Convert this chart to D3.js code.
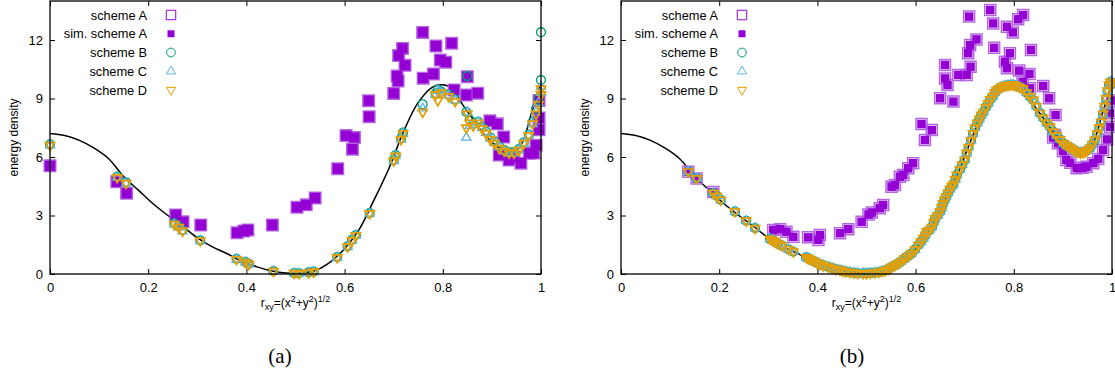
<!DOCTYPE html>
<html>
<head>
<meta charset="utf-8">
<script src="https://cdn.jsdelivr.net/npm/d3@7"></script>
<style>
  body { margin: 0; background: #fff; }
  svg { display: block; font-family: "Liberation Sans", Arial, sans-serif; }
  .tick line { stroke: #000; }
  .tick text { font-size: 13px; fill: #000; }
</style>
</head>
<body>
<svg id="chart" width="1115" height="375"></svg>
<script>
// tick labels / legend
const xTicks = [0, 0.2, 0.4, 0.6, 0.8, 1]
const yTicks = [0, 3, 6, 9, 12]
const legendLabels = ['scheme A', 'sim. scheme A', 'scheme B', 'scheme C', 'scheme D']
const captions = ['(a)', '(b)']

// exact solution
const curveX = [0, 0.03, 0.06, 0.09, 0.12, 0.15, 0.18, 0.21, 0.24, 0.27, 0.30, 0.33, 0.36, 0.39, 0.42, 0.45, 0.48, 0.51, 0.54, 0.57,
  0.60, 0.63, 0.66, 0.69, 0.72, 0.75, 0.78, 0.80, 0.82, 0.84, 0.86, 0.88, 0.90, 0.92, 0.94, 0.96, 0.98, 1.0]
const curveY = [7.2, 7.1, 6.85, 6.45, 5.9, 5.0, 4.3, 3.6, 3.0, 2.45, 1.85, 1.4, 1.05, 0.65, 0.38, 0.17, 0.05, 0.04, 0.18, 0.6,
  1.3, 2.3, 3.8, 5.4, 7.3, 8.8, 9.6, 9.7, 9.5, 8.7, 8.0, 7.3, 6.75, 6.4, 6.22, 6.65, 8.2, 9.8]

// panel (a): coarse sampling
const aX = [0, 0.137, 0.155, 0.253, 0.262, 0.270, 0.306, 0.380, 0.398, 0.405,
  0.455, 0.497, 0.507, 0.527, 0.537, 0.585, 0.606, 0.615, 0.623, 0.651,
  0.700, 0.704, 0.715, 0.719, 0.759, 0.785, 0.790, 0.797, 0.812, 0.825,
  0.848, 0.850, 0.855, 0.862, 0.872, 0.880, 0.888, 0.897, 0.905, 0.915,
  0.925, 0.935, 0.945, 0.955, 0.965, 0.975, 0.983, 0.990, 0.995, 1.000,
  1.000]
const aB = [6.65, 5.0, 4.7, 2.6, 2.45, 2.25, 1.72, 0.78, 0.62, 0.52,
  0.15, 0.05, 0.04, 0.08, 0.12, 0.87, 1.42, 1.75, 2.0, 3.12,
  5.85, 6.1, 6.95, 7.25, 8.7, 9.25, 9.45, 9.35, 9.2, 8.95,
  8.3, 10.15, 7.9, 7.7, 7.8, 7.55, 7.3, 7.0, 6.8, 6.55,
  6.35, 6.25, 6.25, 6.4, 6.75, 7.15, 7.8, 8.5, 9.0, 9.95,
  12.4]
const aC = [6.6, 4.95, 4.65, 2.55, 2.4, 2.2, 1.7, 0.75, 0.6, 0.5,
  0.14, 0.04, 0.03, 0.07, 0.11, 0.85, 1.4, 1.72, 1.98, 3.1,
  5.8, 6.05, 6.9, 7.2, 8.5, 9.2, 9.4, 9.3, 9.15, 8.9,
  7.0, 8.3, 7.6, 7.65, 7.8, 7.5, 7.25, 6.95, 6.75, 6.5,
  6.3, 6.2, 6.2, 6.35, 6.7, 7.1, 7.7, 8.3, 8.8, 9.6,
  9.3]
const aD = [6.6, 4.95, 4.65, 2.55, 2.4, 2.2, 1.7, 0.75, 0.6, 0.5,
  0.14, 0.04, 0.03, 0.07, 0.11, 0.85, 1.4, 1.72, 1.98, 3.1,
  5.8, 6.05, 6.9, 7.2, 8.3, 9.2, 8.9, 9.3, 9.1, 8.85,
  7.5, 8.2, 7.75, 7.6, 7.75, 7.45, 7.2, 6.9, 6.7, 6.45,
  6.3, 6.2, 6.2, 6.35, 6.7, 7.1, 7.7, 8.2, 8.7, 9.5,
  9.2]
const aSimX = [0.000, 0.136, 0.156, 0.256, 0.271, 0.307, 0.381, 0.395, 0.403, 0.453,
  0.503, 0.522, 0.540, 0.586, 0.603, 0.620, 0.649, 0.650, 0.700, 0.707,
  0.709, 0.710, 0.718, 0.723, 0.759, 0.760, 0.781, 0.786, 0.795, 0.806,
  0.818, 0.823, 0.848, 0.850, 0.871, 0.896, 0.911, 0.924, 0.915, 0.935,
  0.945, 0.959, 0.976, 0.985, 0.990, 0.996, 0.996, 0.996, 0.616]
const aSimY = [5.55, 4.73, 4.14, 3.03, 2.68, 2.51, 2.12, 2.2, 2.26, 2.51,
  3.42, 3.55, 3.9, 5.4, 7.1, 7.0, 8.89, 8.07, 9.26, 10.15,
  9.9, 11.2, 11.57, 10.7, 12.39, 10.04, 10.26, 11.69, 10.97, 10.86,
  11.83, 9.44, 9.18, 10.12, 9.27, 7.86, 7.7, 7.02, 6.1, 5.85,
  6.0, 5.68, 6.19, 6.2, 6.6, 7.4, 8.0, 8.9, 6.4]

// panel (b): fine sampling, schemes B, C, D lie on top of each other
const bX = [0.137, 0.154, 0.188, 0.195, 0.203, 0.232, 0.255, 0.273, 0.303, 0.309,
  0.314, 0.320, 0.328, 0.341, 0.351, 0.377, 0.381, 0.386, 0.392, 0.399,
  0.405, 0.412, 0.422, 0.430, 0.438, 0.446, 0.452, 0.458, 0.466, 0.474,
  0.482, 0.493, 0.500, 0.508, 0.517, 0.525, 0.532, 0.538, 0.545, 0.551,
  0.558, 0.565, 0.571, 0.578, 0.585, 0.592, 0.599, 0.606, 0.611, 0.616,
  0.620, 0.623, 0.628, 0.633, 0.637, 0.640, 0.645, 0.650, 0.653, 0.656,
  0.659, 0.662, 0.666, 0.670, 0.674, 0.677, 0.681, 0.684, 0.690, 0.695,
  0.700, 0.704, 0.708, 0.713, 0.717, 0.721, 0.726, 0.730, 0.734, 0.738,
  0.743, 0.748, 0.752, 0.757, 0.761, 0.765, 0.770, 0.776, 0.782, 0.788,
  0.794, 0.799, 0.805, 0.812, 0.819, 0.826, 0.833, 0.840, 0.846, 0.853,
  0.860, 0.867, 0.874, 0.880, 0.887, 0.894, 0.901, 0.907, 0.914, 0.920,
  0.926, 0.931, 0.936, 0.941, 0.945, 0.950, 0.955, 0.960, 0.965, 0.970,
  0.974, 0.978, 0.982, 0.985, 0.988, 0.991, 0.994, 0.997, 1.000]
const bY = [5.25, 4.9, 4.15, 4.0, 3.8, 3.2, 2.73, 2.35, 1.8, 1.72,
  1.65, 1.55, 1.45, 1.27, 1.14, 0.85, 0.8, 0.75, 0.66, 0.58,
  0.5, 0.44, 0.37, 0.3, 0.24, 0.2, 0.15, 0.12, 0.09, 0.06,
  0.04, 0.03, 0.03, 0.05, 0.07, 0.1, 0.14, 0.18, 0.26, 0.36,
  0.45, 0.55, 0.66, 0.8, 0.93, 1.06, 1.26, 1.49, 1.66, 1.83,
  2.0, 2.17, 2.25, 2.4, 2.65, 2.85, 3.0, 3.2, 3.4, 3.62,
  3.8, 3.96, 4.15, 4.35, 4.5, 4.6, 4.85, 5.08, 5.35, 5.6,
  5.85, 6.2, 6.5, 6.85, 7.2, 7.5, 7.75, 7.95, 8.15, 8.3,
  8.55, 8.75, 8.95, 9.1, 9.3, 9.42, 9.52, 9.6, 9.65, 9.68,
  9.7, 9.7, 9.65, 9.58, 9.5, 9.3, 9.1, 8.92, 8.6, 8.25,
  8.0, 7.75, 7.55, 7.3, 7.1, 6.9, 6.7, 6.6, 6.5, 6.4,
  6.3, 6.25, 6.22, 6.24, 6.27, 6.35, 6.46, 6.65, 6.87, 7.2,
  7.5, 7.8, 8.2, 8.6, 9.0, 9.4, 9.7, 9.85, 9.75]
const bSimX = [0.137, 0.154, 0.188, 0.310, 0.324, 0.337, 0.351, 0.381, 0.402, 0.405,
  0.446, 0.463, 0.490, 0.504, 0.511, 0.527, 0.534, 0.551, 0.558, 0.568,
  0.575, 0.585, 0.595, 0.612, 0.619, 0.633, 0.650, 0.660, 0.665, 0.660,
  0.677, 0.687, 0.704, 0.712, 0.707, 0.711, 0.724, 0.709, 0.752, 0.758,
  0.760, 0.786, 0.798, 0.809, 0.819, 0.792, 0.782, 0.786, 0.811, 0.832,
  0.835, 0.818, 0.833, 0.860, 0.872, 0.885, 0.884, 0.880, 0.890, 0.900,
  0.907, 0.915, 0.928, 0.940, 0.948, 0.962, 0.972, 0.982, 0.990, 0.996,
  0.996, 1.000]
const bSimY = [5.25, 4.9, 4.2, 2.26, 2.3, 2.17, 1.91, 1.88, 1.75, 2.0,
  2.09, 2.3, 2.68, 3.05, 3.15, 3.37, 3.54, 4.48, 4.56, 4.99,
  5.08, 5.42, 5.68, 7.69, 6.87, 7.38, 9.01, 10.03, 9.69, 10.72,
  8.84, 10.21, 10.21, 10.63, 11.32, 11.74, 12.03, 13.2, 13.54, 12.85,
  11.6, 12.68, 12.39, 13.06, 13.28, 11.32, 10.89, 10.55, 10.43, 10.26,
  11.49, 9.86, 9.52, 9.64, 9.01, 8.15, 7.13, 7.0, 6.7, 6.3,
  5.85, 5.7, 5.42, 5.45, 5.5, 5.68, 5.9, 6.36, 6.9, 7.55,
  8.24, 8.9]

const colors = { A: '#9400d3', Aedge: '#b466e2', B: '#009e73', C: '#56b4e9', D: '#e69f00' }

const svg = d3.select('#chart')

function drawPanel(p) {
  const x = d3.scaleLinear().domain([0, 1]).range([p.left, p.left + 491])
  const y = d3.scaleLinear().domain([0, 14]).range([274, 1])
  const g = svg.append('g')
  const noDomain = a => a.select('.domain').remove()

  g.append('g').attr('transform', 'translate(0,274)')
    .call(d3.axisBottom(x).tickValues(xTicks).tickFormat(d3.format('~g')).tickSize(-5).tickPadding(9)).call(noDomain)
  g.append('g').attr('transform', 'translate(0,1)')
    .call(d3.axisTop(x).tickValues(xTicks).tickFormat('').tickSize(-5)).call(noDomain)
  g.append('g').attr('transform', 'translate(' + p.left + ',0)')
    .call(d3.axisLeft(y).tickValues(yTicks).tickSize(-5).tickPadding(7)).call(noDomain)
  g.append('g').attr('transform', 'translate(' + (p.left + 491) + ',0)')
    .call(d3.axisRight(y).tickValues(yTicks).tickFormat('').tickSize(-5)).call(noDomain)

  const line = d3.line().x(d => x(d[0])).y(d => y(d[1])).curve(d3.curveCatmullRom)
  g.append('path').attr('d', line(d3.zip(curveX, curveY)))
    .attr('fill', 'none').attr('stroke', '#000').attr('stroke-width', 1.5)

  const series = (xs, ys, o) => {
    g.append('g').selectAll('path').data(d3.zip(xs, ys)).join('path')
      .attr('d', d3.symbol().type(o.type).size(o.size))
      .attr('transform', d => 'translate(' + x(d[0]) + ',' + y(d[1]) + ')' + (o.flip ? ' rotate(180)' : ''))
      .attr('fill', o.fill || 'none')
      .attr('stroke', o.stroke || 'none')
      .attr('stroke-width', o.sw || 1)
  }

  // scheme A coincides with sim. scheme A
  series(p.simX, p.simY, { type: d3.symbolSquare, size: p.openSq * p.openSq, stroke: colors.Aedge, sw: 1.5 })
  series(p.simX, p.simY, { type: d3.symbolSquare, size: p.fillSq * p.fillSq, fill: colors.A })
  series(p.x, p.B, { type: d3.symbolCircle, size: 62, stroke: colors.B, sw: 1.3 })
  series(p.x, p.C, { type: d3.symbolTriangle, size: 36, stroke: colors.C, sw: 1.3 })
  series(p.x, p.D, { type: d3.symbolTriangle, size: 36, stroke: colors.D, sw: 1.7, flip: true })

  g.append('rect').attr('x', p.left).attr('y', 1).attr('width', 491).attr('height', 273)
    .attr('fill', 'none').attr('stroke', '#000').attr('stroke-width', 1.3)

  // legend
  const leg = g.append('g').selectAll('g').data(legendLabels).join('g')
    .attr('transform', (d, i) => 'translate(0,' + (15 + i * 18.75) + ')')
  leg.append('text').attr('x', p.left + 97).attr('y', 4.5).attr('text-anchor', 'end')
    .attr('font-size', 12.8).text(d => d)
  const sx = p.left + 121
  const legSym = [
    { type: d3.symbolSquare, size: 90, stroke: colors.A, sw: 1 },
    { type: d3.symbolSquare, size: 49, fill: colors.A },
    { type: d3.symbolCircle, size: 60, stroke: colors.B, sw: 1 },
    { type: d3.symbolTriangle, size: 36, stroke: colors.C, sw: 1 },
    { type: d3.symbolTriangle, size: 36, stroke: colors.D, sw: 1, flip: true }
  ]
  leg.append('path')
    .attr('d', (d, i) => d3.symbol().type(legSym[i].type).size(legSym[i].size)())
    .attr('transform', (d, i) => 'translate(' + sx + ',0)' + (legSym[i].flip ? ' rotate(180)' : ''))
    .attr('fill', (d, i) => legSym[i].fill || 'none')
    .attr('stroke', (d, i) => legSym[i].stroke || 'none')
    .attr('stroke-width', (d, i) => legSym[i].sw || 0)

  // axis titles
  g.append('text').attr('transform', 'translate(' + (p.left - 32) + ',137.5) rotate(-90)')
    .attr('text-anchor', 'middle').attr('font-size', 12).text('energy density')
  const xl = g.append('text').attr('x', p.left + 245.5).attr('y', 307)
    .attr('text-anchor', 'middle').attr('font-size', 12)
  xl.append('tspan').text('r')
  xl.append('tspan').attr('font-size', 9).attr('dy', 3).text('xy')
  xl.append('tspan').attr('dy', -3).text('=(x')
  xl.append('tspan').attr('font-size', 9).attr('dy', -5).text('2')
  xl.append('tspan').attr('dy', 5).text('+y')
  xl.append('tspan').attr('font-size', 9).attr('dy', -5).text('2')
  xl.append('tspan').attr('dy', 5).text(')')
  xl.append('tspan').attr('font-size', 9).attr('dy', -5).text('1/2')

  svg.append('text').attr('x', p.capX).attr('y', 363).attr('text-anchor', 'middle')
    .attr('font-family', '"Liberation Serif", serif').attr('font-size', 21)
    .text(p.caption)
}

drawPanel({ left: 50, x: aX, B: aB, C: aC, D: aD, simX: aSimX, simY: aSimY,
  openSq: 11.5, fillSq: 10.5, capX: 280, caption: captions[0] })
drawPanel({ left: 621, x: bX, B: bY, C: bY, D: bY, simX: bSimX, simY: bSimY,
  openSq: 11, fillSq: 8.5, capX: 852, caption: captions[1] })
</script>
</body>
</html>
